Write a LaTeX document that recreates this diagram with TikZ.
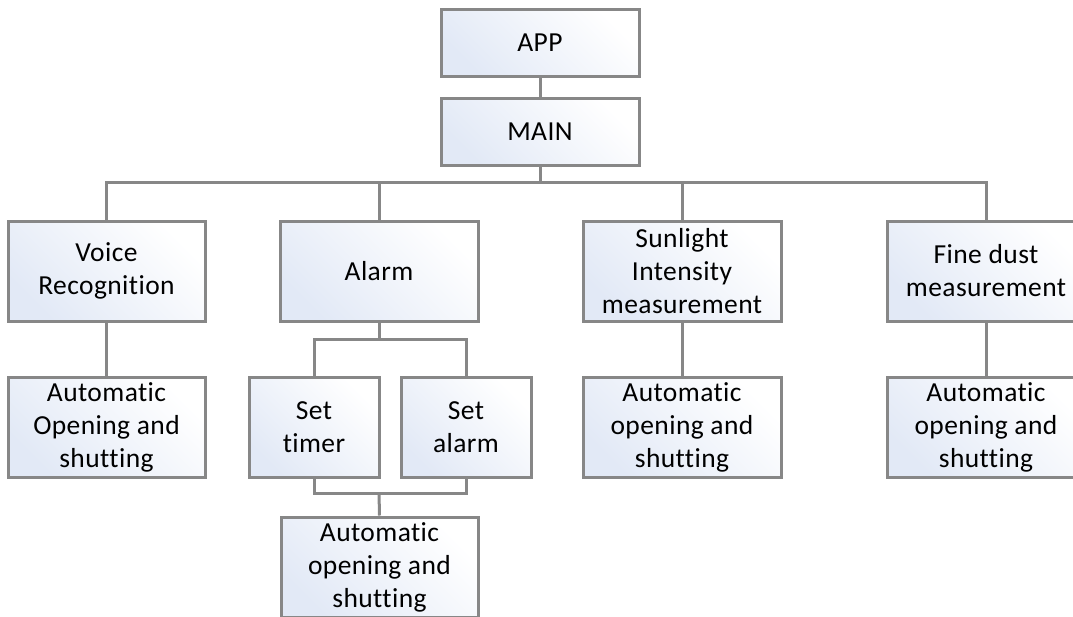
\documentclass[tikz,border=0pt]{standalone}
\usepackage{fontspec}
\setmainfont{Carlito}[Ligatures=NoCommon, LetterSpace=1.5]
\begin{document}
\begin{tikzpicture}[x=1pt,y=1pt,
  box/.style={draw=linegray, line width=3pt, rectangle, inner sep=0pt,
    align=center, font=\fontsize{27.5}{33}\selectfont,
    left color=boxblue, right color=white, shading angle=135},
  wire/.style={draw=linegray, line width=3pt}]
\definecolor{linegray}{HTML}{878787}
\definecolor{boxblue}{HTML}{E2E9F6}
\useasboundingbox (0,0) rectangle (1073,-616);
\clip (0,0) rectangle (1073,-616);
% level 0/1
\node[box, minimum width=198, minimum height=67] (app) at (540,-42.5) {APP};
\node[box, minimum width=198, minimum height=67] (main) at (540,-131.5) {MAIN};
% level 2
\node[box, minimum width=197, minimum height=100] (voice) at (106.5,-271) {Voice\\Recognition};
\node[box, minimum width=198, minimum height=100] (alarm) at (379,-271) {Alarm};
\node[box, minimum width=198, minimum height=100] (sun) at (682,-271) {Sunlight\\Intensity\\measurement};
\node[box, minimum width=198, minimum height=100] (dust) at (986,-271) {Fine dust\\measurement};
% level 3
\node[box, minimum width=197, minimum height=100] (voiceauto) at (106.5,-427) {Automatic\\Opening and\\shutting};
\node[box, minimum width=130, minimum height=100] (timer) at (314,-427) {Set\\timer};
\node[box, minimum width=130, minimum height=100] (setalarm) at (466,-427) {Set\\alarm};
\node[box, minimum width=198, minimum height=100] (sunauto) at (682,-427) {Automatic\\opening and\\shutting};
\node[box, minimum width=198, minimum height=100] (dustauto) at (986,-427) {Automatic\\opening and\\shutting};
% level 4
\node[box, minimum width=197, minimum height=100] (alarmauto) at (379.5,-567) {Automatic\\opening and\\shutting};
% junction coordinates
\coordinate (bus) at (540,-182);
\coordinate (split) at (379,-339);
\coordinate (join) at (379,-493);
% connectors
\draw[wire] (app.south) -- (main.north);
\draw[wire] (main.south) -- (bus);
\draw[wire] (voice.north) -- (voice.north |- bus) -- (dust.north |- bus) -- (dust.north);
\draw[wire] (alarm.north) -- (alarm.north |- bus);
\draw[wire] (sun.north) -- (sun.north |- bus);
\draw[wire] (voice.south) -- (voiceauto.north);
\draw[wire] (sun.south) -- (sunauto.north);
\draw[wire] (dust.south) -- (dustauto.north);
\draw[wire] (alarm.south) -- (split);
\draw[wire] (timer.north) -- (timer.north |- split) -- (setalarm.north |- split) -- (setalarm.north);
\draw[wire] (timer.south) -- (timer.south |- join) -- (setalarm.south |- join) -- (setalarm.south);
\draw[wire] (join) -- (alarmauto.north);
\end{tikzpicture}
\end{document}
